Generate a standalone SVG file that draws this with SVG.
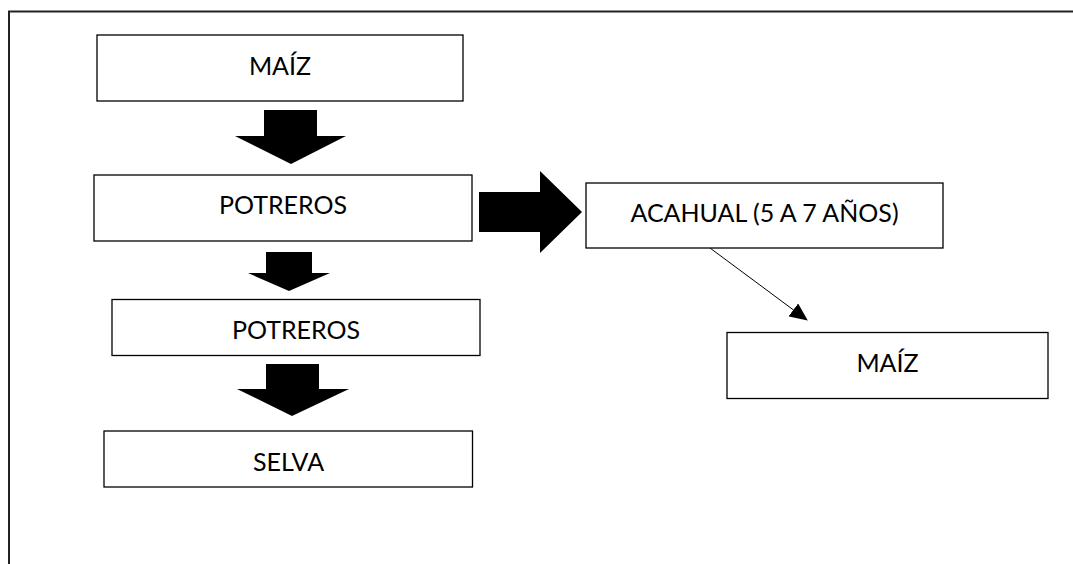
<svg xmlns="http://www.w3.org/2000/svg" width="1073" height="564" viewBox="0 0 1073 564">
<style>
.box{fill:#fff;stroke:#000;stroke-width:1.3}
.lbl{font-family:Lato,"Open Sans","Liberation Sans",sans-serif;font-size:25px;fill:#000;text-anchor:middle}
.big{fill:#000;stroke:none}
</style>
<defs>
<marker id="ah" markerWidth="18" markerHeight="16" refX="17" refY="8" orient="auto" markerUnits="userSpaceOnUse">
<path d="M0,0 L18,8 L0,16 Z" fill="#000"/>
</marker>
</defs>
<rect width="1073" height="564" fill="#fff"/>
<path d="M9,564 L9,11.5 L1073,11.5" fill="none" stroke="#222" stroke-width="2"/>
<g id="connectors">
<path class="big" d="M264,110 L317,110 L317,136 L346,136 L291,164 L235,136 L264,136 Z"/>
<path class="big" d="M266,252 L312,252 L312,273 L330,273 L289,291 L248,273 L266,273 Z"/>
<path class="big" d="M266,364 L319,364 L319,389 L349,389 L292,416 L237,389 L266,389 Z"/>
<path class="big" d="M479,192 L540,192 L540,171 L582,212 L540,253 L540,232 L479,232 Z"/>
<line x1="710" y1="248" x2="807" y2="320" stroke="#000" stroke-width="1" marker-end="url(#ah)"/>
</g>
<g id="n1"><rect class="box" x="97" y="35" width="366" height="66"/><text class="lbl" x="280" y="74.5">MAÍZ</text></g>
<g id="n2"><rect class="box" x="94" y="175" width="378" height="66"/><text class="lbl" x="283" y="213.5">POTREROS</text></g>
<g id="n3"><rect class="box" x="112" y="299.5" width="368" height="56"/><text class="lbl" x="296" y="338.5">POTREROS</text></g>
<g id="n4"><rect class="box" x="104" y="431" width="368.5" height="56"/><text class="lbl" x="288.5" y="470.5">SELVA</text></g>
<g id="n5"><rect class="box" x="586" y="183" width="357" height="65"/><text class="lbl" x="764.5" y="222">ACAHUAL (5 A 7 AÑOS)</text></g>
<g id="n6"><rect class="box" x="727" y="332.5" width="321" height="66"/><text class="lbl" x="887.5" y="372">MAÍZ</text></g>
</svg>
